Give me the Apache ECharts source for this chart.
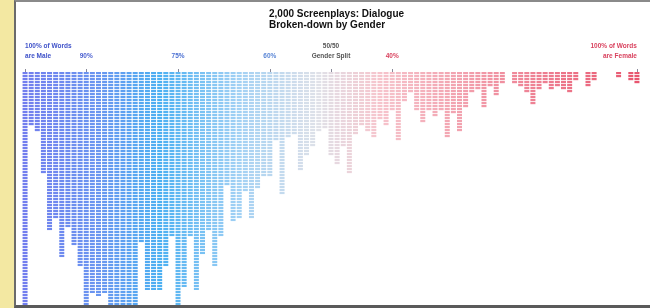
<!DOCTYPE html>
<html>
<head>
<meta charset="utf-8">
<script src="https://cdn.jsdelivr.net/npm/echarts@6/dist/echarts.min.js"></script>
<style>
  html, body { margin: 0; padding: 0; }
  body { width: 650px; height: 308px; background: #f3e8a2; position: relative; overflow: hidden; }
  #panel { position: absolute; left: 14px; top: 0; width: 634px; height: 303px; background: #fff;
           border-left: 2px solid #6b6b6b; border-top: 2px solid #8a8a8a; border-bottom: 3px solid #5a5a5a; }
  #chart { position: absolute; left: 0; top: 0; width: 650px; height: 308px; }
</style>
</head>
<body>
<div id="panel"></div>
<div id="chart"></div>
<script>
  // % of words spoken by men, one column per percent
  var malePct = [
    '100','99','98','97','96','95','94','93','92','91',
    '90','89','88','87','86','85','84','83','82','81',
    '80','79','78','77','76','75','74','73','72','71',
    '70','69','68','67','66','65','64','63','62','61',
    '60','59','58','57','56','55','54','53','52','51',
    '50','49','48','47','46','45','44','43','42','41',
    '40','39','38','37','36','35','34','33','32','31',
    '30','29','28','27','26','25','24','23','22','21',
    '20','19','18','17','16','15','14','13','12','11',
    '10','9','8','7','6','5','4','3','2','1','0'
  ];
  // number of films (dots) per column, as seen in the picture
  var filmCount = [
    78, 17, 19, 33, 52, 48, 61, 51, 57, 64,
    78, 73, 74, 73, 78, 78, 78, 78, 78, 56,
    72, 72, 72, 64, 54, 78, 71, 54, 72, 60,
    52, 64, 54, 37, 49, 48, 39, 48, 38, 34,
    34, 22, 40, 21, 20, 32, 27, 24, 19, 18,
    27, 30, 24, 33, 20, 17, 19, 21, 15, 17,
    12, 22, 9, 6, 12, 16, 12, 14, 12, 21,
    13, 19, 11, 6, 5, 11, 4, 7, 3, 0,
    3, 4, 6, 10, 5, 3, 5, 4, 5, 6,
    2, 0, 4, 2, 0, 0, 0, 1, 0, 2, 3
  ];
  var tickPct = ['100', '90', '75', '60', '50', '40', '0'];
  var tickText = ['100% of Words\nare Male', '90%', '75%', '60%', '50/50\nGender Split', '40%', '100% of Words\nare Female'];
  var tickColor = ['#3f52c9', '#4a5fd0', '#4a6fd2', '#5a86d6', '#555555', '#d9435f', '#d9435f'];

  // colour ramp male -> neutral -> female
  var rampPos = [0, 12, 22, 35, 48, 58, 75, 100];
  var rampCol = ['#727eee', '#6a96f0', '#4cb0f2', '#a2d1f4', '#e0e1e8', '#f6c4cc', '#f197a6', '#e8566f'];

  function hex(c) { return [parseInt(c.substr(1, 2), 16), parseInt(c.substr(3, 2), 16), parseInt(c.substr(5, 2), 16)]; }
  function rampColor(i) {
    for (var k = 0; k < rampPos.length - 1; k++) {
      if (i <= rampPos[k + 1]) {
        var t = (i - rampPos[k]) / (rampPos[k + 1] - rampPos[k]);
        var a = hex(rampCol[k]), b = hex(rampCol[k + 1]);
        return 'rgb(' + [0, 1, 2].map(function (j) { return Math.round(a[j] + (b[j] - a[j]) * t); }).join(',') + ')';
      }
    }
    return rampCol[rampCol.length - 1];
  }

  var seriesData = filmCount.map(function (v, i) {
    return { value: v, itemStyle: { color: rampColor(i) } };
  });

  var chart = echarts.init(document.getElementById('chart'), null, { renderer: 'canvas' });
  chart.setOption({
    animation: false,
    textStyle: { fontFamily: 'Liberation Sans, Arial, sans-serif' },
    graphic: [{
      type: 'text',
      left: 269, top: 9,
      style: {
        text: '2,000 Screenplays: Dialogue\nBroken-down by Gender',
        fontSize: 10, fontWeight: 'bold', lineHeight: 11, fill: '#111',
        fontFamily: 'Liberation Sans, Arial, sans-serif'
      }
    }],
    grid: { left: 22, right: 10, top: 72, bottom: 3 },
    xAxis: {
      type: 'category',
      data: malePct,
      position: 'top',
      offset: 8,
      axisLine: { show: false },
      axisTick: {
        show: true, length: 3, alignWithLabel: true,
        interval: function (i, v) { return tickPct.indexOf(v) >= 0; },
        lineStyle: { color: '#8a8a9a' }
      },
      axisLabel: {
        interval: function (i, v) { return tickPct.indexOf(v) >= 0; },
        formatter: function (v) { return tickText[tickPct.indexOf(v)]; },
        color: function (v) { return tickColor[tickPct.indexOf(v)]; },
        fontSize: 6.5, fontWeight: 'bold', lineHeight: 10, margin: 3,
        alignMinLabel: 'left', alignMaxLabel: 'right'
      }
    },
    yAxis: {
      type: 'value', inverse: true, min: 0, max: 78, show: false
    },
    series: [{
      type: 'pictorialBar',
      symbol: 'rect',
      symbolSize: [5, 2.2],
      symbolRepeat: true,
      symbolMargin: 0.4,
      symbolPosition: 'start',
      data: seriesData
    }]
  });
</script>
</body>
</html>
